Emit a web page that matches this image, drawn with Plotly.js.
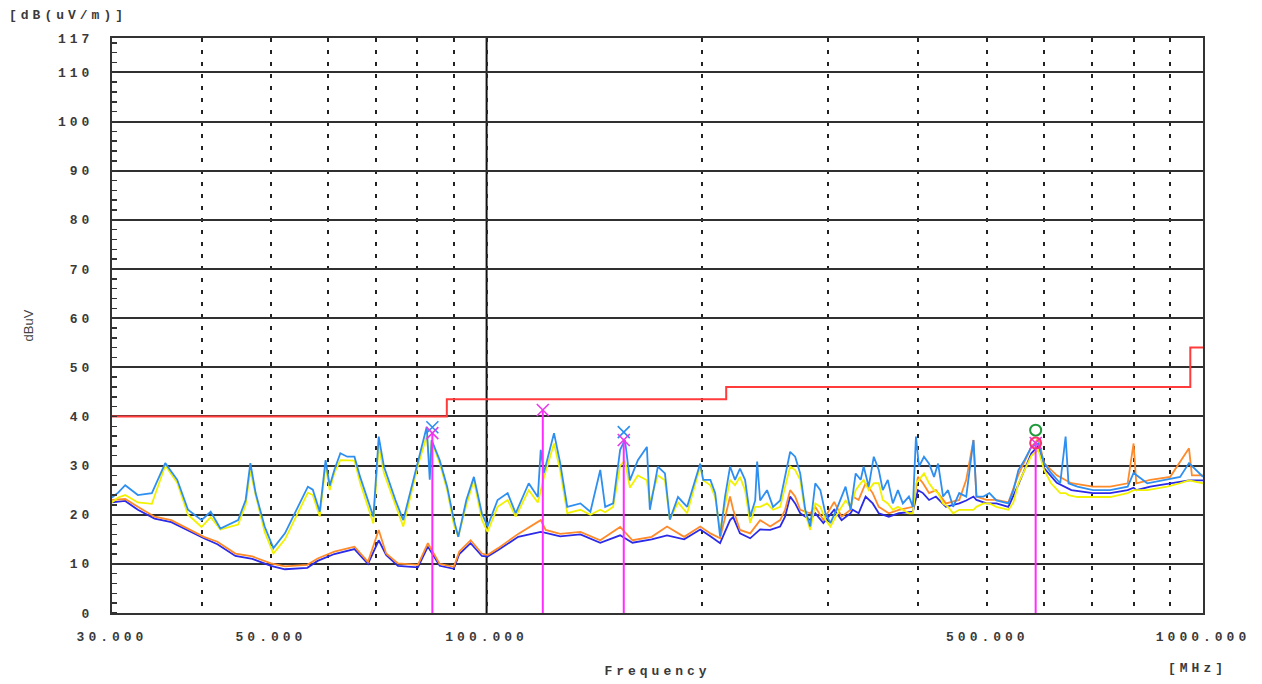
<!DOCTYPE html>
<html>
<head>
<meta charset="utf-8">
<script src="https://cdn.plot.ly/plotly-3.0.1.min.js"></script>
<style>
  html, body { margin: 0; padding: 0; background: #ffffff; }
  #chart { width: 1262px; height: 684px; }
  .xtick text, .ytick text, .xtitle, .annotation-text { letter-spacing: 4px; }
</style>
</head>
<body>
<div id="chart"></div>
<script>
// ---------- Data (frequency in MHz, level in dBuV/m) ----------
const peakFreq = [30, 30.6, 31.3, 32.6, 34.1, 35.6, 37.0, 38.3, 40.0, 41.2,
  42.5, 45.0, 46.1, 46.8, 47.6, 49.0, 50.4, 52.3, 56.3, 57.2,
  58.5, 59.6, 60.4, 61.3, 62.5, 63.9, 65.4, 66.6, 69.5, 70.7,
  71.9, 74.6, 76.5, 80.2, 82.5, 83.3, 83.8, 86.0, 88.1, 90.0,
  91.3, 93.7, 96.0, 98.5, 100.3, 103.6, 107.0, 109.8, 114.5, 117.9,
  119.0, 120.2, 124.2, 126.7, 129.6, 135.2, 139.6, 144.1, 146.4, 150.2,
  153.6, 156.0, 158.5, 162.6, 167.4, 169.0, 173.4, 177.4, 180.2, 185.0,
  190.5, 198.7, 200.6, 205.3, 208.5, 211.8, 215.2, 218.7, 222.2, 225.8,
  229.5, 233.3, 237.1, 238.6, 240.9, 246.3, 251.1, 256.9, 261.0, 265.3,
  269.6, 274.0, 278.5, 283.0, 287.6, 292.3, 297.1, 301.9, 309.0, 317.0,
  322.2, 327.5, 332.8, 336.0, 341.5, 347.1, 352.7, 357.3, 363.1, 369.0,
  375.1, 381.1, 388.6, 393.6, 397.5, 401.4, 407.9, 414.6, 421.3, 426.8,
  433.7, 440.7, 447.9, 456.8, 467.2, 478.2, 482.8, 493.8, 503.4, 514.8,
  535, 543.7, 552.5, 563.3, 576, 589, 600, 613.6, 632, 643,
  649, 668, 702, 742, 785, 800, 836, 891, 929, 956,
  1000];

const peakVert = [23.5, 24.5, 26.0, 24.0, 24.4, 30.5, 27.1, 21.0, 18.9, 20.6,
  17.2, 18.9, 23.0, 30.5, 24.4, 17.6, 13.2, 16.2, 25.7, 25.1,
  20.6, 31.1, 25.9, 29.1, 32.5, 31.8, 31.8, 27.7, 19.6, 35.9,
  29.8, 23.0, 18.9, 31.1, 37.9, 27.1, 35.2, 31.1, 25.7, 19.0,
  15.5, 23.0, 27.7, 20.3, 17.6, 23.0, 24.4, 20.3, 26.4, 23.6,
  33.2, 28.5, 36.6, 30.5, 21.6, 22.3, 20.6, 29.1, 21.6, 22.3,
  33.2, 35.2, 27.0, 31.1, 33.8, 21.0, 29.8, 28.4, 19.0, 23.6,
  21.6, 30.4, 27.1, 27.1, 24.4, 15.6, 23.7, 29.8, 27.1, 29.4,
  27.1, 19.6, 22.9, 30.8, 22.9, 25.0, 21.6, 22.9, 27.7, 32.8,
  31.8, 28.4, 21.0, 17.6, 26.4, 25.0, 20.3, 18.3, 21.6, 25.7,
  21.0, 28.4, 27.1, 29.8, 25.7, 31.8, 29.1, 25.0, 27.1, 22.3,
  25.0, 22.3, 23.7, 21.6, 35.9, 29.8, 31.8, 30.4, 27.7, 30.4,
  23.7, 25.0, 21.6, 24.4, 23.7, 35.2, 23.7, 23.7, 24.4, 22.9,
  22.3, 25.0, 29.1, 31.1, 33.8, 34.5, 30.5, 28.5, 26.4, 35.9,
  26.4, 25.7, 25.0, 25.0, 25.7, 28.5, 26.4, 27.1, 27.7, 30.5,
  27.7];

const peakHoriz = [22.5, 23.5, 24.0, 22.5, 22.2, 30.0, 26.5, 20.0, 17.5, 19.5,
  17.0, 18.0, 22.0, 29.0, 24.0, 16.5, 12.1, 15.0, 24.5, 24.0,
  19.6, 30.0, 25.0, 28.5, 31.1, 31.0, 31.0, 26.5, 18.2, 34.0,
  28.5, 22.0, 17.6, 30.0, 36.0, 30.0, 35.0, 30.5, 25.0, 18.0,
  15.5, 22.0, 27.0, 19.0, 16.5, 21.6, 23.0, 19.6, 25.0, 22.5,
  25.0, 27.5, 34.5, 29.0, 20.3, 21.0, 20.0, 21.0, 20.5, 21.6,
  30.0, 31.0, 25.5, 28.0, 27.0, 22.5, 28.0, 27.0, 19.0, 22.5,
  20.3, 29.8, 27.0, 26.0, 23.5, 16.9, 22.0, 27.1, 26.0, 27.7,
  25.0, 18.3, 21.6, 21.6, 21.6, 22.3, 21.0, 21.6, 25.7, 29.8,
  29.1, 27.1, 20.3, 16.9, 22.3, 21.6, 19.0, 17.6, 20.3, 22.9,
  21.6, 25.0, 26.4, 27.1, 25.0, 26.4, 26.4, 23.0, 22.3, 21.0,
  21.6, 21.0, 20.3, 20.3, 26.4, 27.1, 28.4, 26.4, 25.0, 24.4,
  22.3, 21.6, 20.3, 21.0, 21.0, 21.0, 21.6, 22.3, 22.3, 21.6,
  21.0, 22.5, 26.4, 29.1, 32.0, 33.2, 29.1, 26.4, 24.4, 24.4,
  24.0, 23.6, 23.6, 23.6, 24.4, 25.0, 25.0, 25.7, 26.4, 27.0,
  26.4];

const avgFreq = [30, 31.3, 32.6, 34.4, 36.3, 38.3, 40.3, 42.1, 44.6, 47.1,
  50, 52.3, 56.2, 58.1, 61.3, 65.4, 68.3, 70.7, 72.4, 75.2,
  80.2, 82.8, 86.0, 90, 91.6, 95, 98.5, 100.3, 103.8, 110.7,
  119, 120.9, 126.7, 135.2, 144.1, 153.6, 159.8, 170, 178.6, 188.7,
  198.7, 205.3, 211.8, 218.7, 220.9, 225.8, 233.3, 240.9, 248.8, 256.9,
  261.0, 265.3, 269.6, 274.0, 283.0, 287.6, 295.2, 305.6, 313.0, 322.2,
  324.3, 330.6, 338.1, 345.9, 352.7, 364.3, 376.3, 393.6, 400.0, 406.6,
  414.6, 423.8, 437.6, 456.8, 467.2, 478.2, 482.8, 498.6, 514.8, 535,
  552, 576, 589, 600, 625, 655, 702, 742, 785, 800,
  807, 844, 900, 956, 965, 1000];

const avgVert = [23.0, 23.2, 21.6, 19.6, 18.9, 17.2, 15.5, 14.5, 12.1, 11.5,
  10.1, 9.5, 9.8, 11.1, 12.5, 13.5, 10.4, 16.9, 12.1, 10.1,
  9.8, 14.2, 10.0, 9.4, 12.5, 14.8, 12.1, 11.8, 13.2, 16.1,
  18.9, 16.9, 16.1, 16.5, 14.8, 17.5, 14.8, 15.5, 17.6, 15.5,
  17.6, 16.2, 15.2, 23.7, 21.0, 16.9, 16.2, 18.9, 17.6, 18.9,
  21.0, 25.0, 23.7, 21.0, 20.3, 21.6, 18.9, 22.6, 19.6, 21.0,
  23.7, 23.0, 26.4, 24.4, 21.6, 20.3, 21.0, 21.6, 27.7, 26.4,
  24.4, 25.0, 22.3, 23.0, 27.1, 35.2, 23.7, 23.0, 23.0, 22.5,
  28.0, 33.8, 35.5, 30.5, 28.0, 26.4, 25.7, 25.7, 26.4, 34.5,
  26.4, 27.1, 27.7, 33.5, 28.0, 28.0];

const avgHoriz = [22.5, 22.8, 21.0, 19.2, 18.5, 16.8, 15.2, 14.0, 11.6, 11.0,
  9.6, 8.9, 9.2, 10.6, 12.0, 13.0, 10.0, 14.8, 11.8, 9.6,
  9.3, 13.5, 9.6, 9.0, 12.0, 14.2, 11.6, 11.5, 12.8, 15.5,
  16.5, 16.3, 15.6, 16.0, 14.3, 15.8, 14.3, 15.0, 15.8, 15.0,
  17.0, 15.6, 14.2, 18.9, 19.5, 16.2, 15.2, 17.0, 16.9, 17.6,
  19.6, 23.7, 22.3, 20.3, 18.9, 20.3, 18.3, 21.0, 18.9, 20.3,
  21.0, 20.3, 23.7, 22.3, 20.3, 19.6, 20.3, 20.6, 25.0, 24.4,
  23.0, 23.7, 21.6, 22.3, 22.9, 23.7, 23.0, 22.3, 22.3, 21.6,
  26.0, 32.5, 34.0, 29.5, 26.5, 25.0, 24.4, 24.4, 25.0, 25.5,
  25.0, 25.7, 26.4, 27.0, 27.0, 27.0];

// FCC class B limit (step edges)
const limitFreq = [30, 88, 216, 960, 1000];
const limitLevel = [40, 43.5, 46, 54, 54];

// Markers
const markFreq = [84, 119.8, 155.4, 584];
const markLevel = [36.6, 41.3, 35.2, 34.6];
const markBlueFreq = [84, 155.4];
const markBlueLevel = [37.8, 36.8];
const markGreenFreq = [584];
const markGreenLevel = [37.2];
const markRedFreq = [584];
const markRedLevel = [34.6];

// Axes ticks
const xGridVals = [30, 40, 50, 60, 70, 80, 90, 100, 200, 300, 400, 500, 600, 700, 800, 900, 1000];
const xGridText = ['30.000', '', '50.000', '', '', '', '', '100.000', '', '', '', '500.000', '', '', '', '', '1000.000'];
const yTickVals = [0, 10, 20, 30, 40, 50, 60, 70, 80, 90, 100, 110, 117];
const yTickText = ['0', '10', '20', '30', '40', '50', '60', '70', '80', '90', '100', '110', '117'];

// ---------- Build ----------
const lineX = [], lineY = [];
markFreq.forEach((f, i) => { lineX.push(f, f, null); lineY.push(0, markLevel[i], null); });

const cBlue = '#2e8ff0', cMag = '#e83ae8';
const traces = [
  { x: limitFreq, y: limitLevel, mode: 'lines', line: { color: '#ff3b3b', width: 2, shape: 'hv' }, name: 'Limit' },
  { x: avgFreq, y: avgHoriz, mode: 'lines', line: { color: '#2a2ae8', width: 1.8 }, name: 'Avg H' },
  { x: avgFreq, y: avgVert, mode: 'lines', line: { color: '#ff8a2a', width: 1.8 }, name: 'Avg V' },
  { x: peakFreq, y: peakHoriz, mode: 'lines', line: { color: '#f2f200', width: 1.8 }, name: 'Peak H' },
  { x: peakFreq, y: peakVert, mode: 'lines', line: { color: cBlue, width: 1.8 }, name: 'Peak V' },
  { x: lineX, y: lineY, mode: 'lines', line: { color: '#ff2bff', width: 2 }, name: 'Marker lines', connectgaps: false },
  { x: markBlueFreq, y: markBlueLevel, mode: 'markers', marker: { symbol: 'x-thin-open', size: 12, color: cBlue, line: { color: cBlue, width: 1.6 } }, name: 'Mk V' },
  { x: markFreq, y: markLevel, mode: 'markers', marker: { symbol: 'x-thin-open', size: 12, color: cMag, line: { color: cMag, width: 1.6 } }, name: 'Mk' },
  { x: markGreenFreq, y: markGreenLevel, mode: 'markers', marker: { symbol: 'circle-open', size: 11, color: '#1f9a3a', line: { color: '#1f9a3a', width: 2 } }, name: 'QP V' },
  { x: markRedFreq, y: markRedLevel, mode: 'markers', marker: { symbol: 'circle-open', size: 11, color: '#ff3070', line: { color: '#ff3070', width: 2 } }, name: 'QP H' }
];

const tickFont = { family: 'Liberation Mono, DejaVu Sans Mono, monospace', size: 13, color: '#3a3a3a', weight: 'bold' };

const layout = {
  width: 1262, height: 684,
  margin: { l: 112, r: 59, t: 38, b: 71 },
  paper_bgcolor: '#ffffff', plot_bgcolor: '#ffffff',
  showlegend: false,
  xaxis: {
    type: 'log', range: [Math.log10(30), Math.log10(1000)],
    tickmode: 'array', tickvals: xGridVals, ticktext: xGridText,
    showgrid: true, gridcolor: '#222222', gridwidth: 2, griddash: '4px,8px',
    ticks: '', ticklabelstandoff: 10,
    showline: true, mirror: true, linecolor: '#333333', linewidth: 2,
    zeroline: false, tickfont: tickFont,
    title: { text: 'Frequency', standoff: 22, font: tickFont }
  },
  yaxis: {
    range: [0, 117], tickmode: 'array', tickvals: yTickVals, ticktext: yTickText,
    showgrid: true, gridcolor: '#303030', gridwidth: 2,
    ticks: '', ticklabelstandoff: 14,
    minor: { tickmode: 'linear', tick0: 0, dtick: 2, ticks: 'inside', ticklen: 5, tickwidth: 1.5, tickcolor: '#333333', showgrid: false },
    showline: true, mirror: true, linecolor: '#333333', linewidth: 2,
    zeroline: false, tickfont: tickFont,
    title: { text: 'dBuV', standoff: 21, font: { family: 'Liberation Sans, Arial, sans-serif', size: 13, color: '#444444' } }
  },
  shapes: [
    { type: 'line', xref: 'x', yref: 'paper', x0: 100, x1: 100, y0: 0, y1: 1, layer: 'below', line: { color: '#111111', width: 2 } }
  ],
  annotations: [
    { text: '[dB(uV/m)]', xref: 'paper', yref: 'paper', x: -0.0962, y: 1.0383, xanchor: 'left', yanchor: 'middle', showarrow: false, font: tickFont },
    { text: '[MHz]', xref: 'paper', yref: 'paper', x: 0.9954, y: -0.097, xanchor: 'center', yanchor: 'middle', showarrow: false, font: tickFont }
  ]
};

Plotly.newPlot('chart', traces, layout, { staticPlot: true, displayModeBar: false });
</script>
</body>
</html>
